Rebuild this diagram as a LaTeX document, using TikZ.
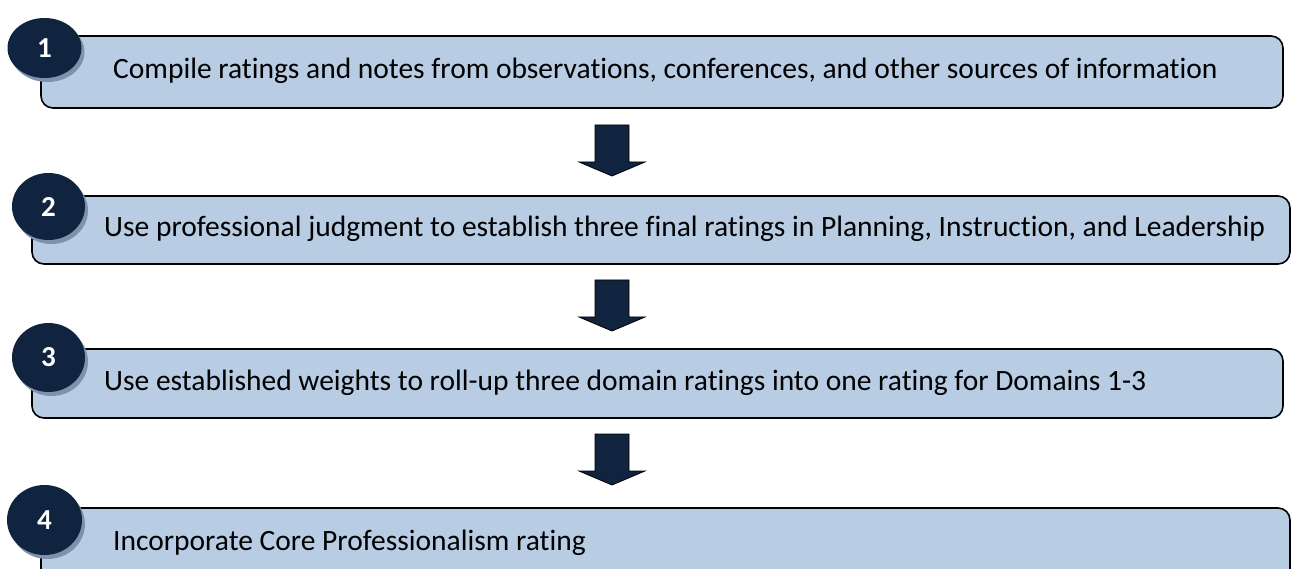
\documentclass[tikz,border=0pt]{standalone}
\usepackage{fontspec}
\setmainfont{Carlito}[Ligatures=NoCommon]
\usetikzlibrary{shapes.geometric,shadows}
\definecolor{boxBlue}{HTML}{B8CCE4}
\definecolor{numNavy}{HTML}{10243F}
\definecolor{shadeBlue}{HTML}{7F91AB}

\tikzset{
  stepbox/.style={draw=black, line width=1.6pt, fill=boxBlue, rounded corners=12pt, inner sep=0pt},
  steptext/.style={anchor=base west, inner sep=0pt, font=\fontsize{29.5}{34}\selectfont},
  numdot/.style={ellipse, fill=numNavy, inner sep=0pt, text=white,
    font=\fontsize{29}{32}\selectfont\bfseries,
    drop shadow={shadow xshift=3pt, shadow yshift=-4pt, fill=shadeBlue, opacity=1}},
  downarrow/.style={draw=black, line width=0.8pt, fill=numNavy, line join=miter}
}

\begin{document}
\begin{tikzpicture}[x=1pt, y=-1pt]
  \useasboundingbox (0,0) rectangle (1291,569);
  % step boxes
  \node[stepbox, minimum width=1242pt, minimum height=72pt] (box1) at (662,72) {};
  \node[stepbox, minimum width=1258pt, minimum height=68pt] (box2) at (661,230) {};
  \node[stepbox, minimum width=1251pt, minimum height=69pt] (box3) at (657.5,383.5) {};
  \node[stepbox, minimum width=1249pt, minimum height=80pt] (box4) at (665.5,548) {};
  % texts
  \node[steptext] (txt1) at (113,79) {Compile ratings and notes from observations, conferences, and other sources of information};
  \node[steptext] (txt2) at (104,237) {Use professional judgment to establish three final ratings in Planning, Instruction, and Leadership};
  \node[steptext] (txt3) at (104,391) {Use established weights to roll-up three domain ratings into one rating for Domains 1-3};
  \node[steptext] (txt4) at (113,550) {Incorporate Core Professionalism rating};
  % numbers
  \node[numdot, minimum width=74pt, minimum height=60pt] (num1) at (44.5,48) {1};
  \node[numdot, minimum width=73pt, minimum height=67pt] (num2) at (48.5,206.5) {2};
  \node[numdot, minimum width=73pt, minimum height=69pt] (num3) at (48.5,357.5) {3};
  \node[numdot, minimum width=75pt, minimum height=70pt] (num4) at (44.5,520) {4};
  % block arrows
  \foreach \t in {125,280,434}
    \draw[downarrow] (595,\t) -- (629,\t) -- (629,\t+37) -- (645,\t+37)
      -- (612,\t+51) -- (579,\t+37) -- (595,\t+37) -- cycle;
\end{tikzpicture}
\end{document}
